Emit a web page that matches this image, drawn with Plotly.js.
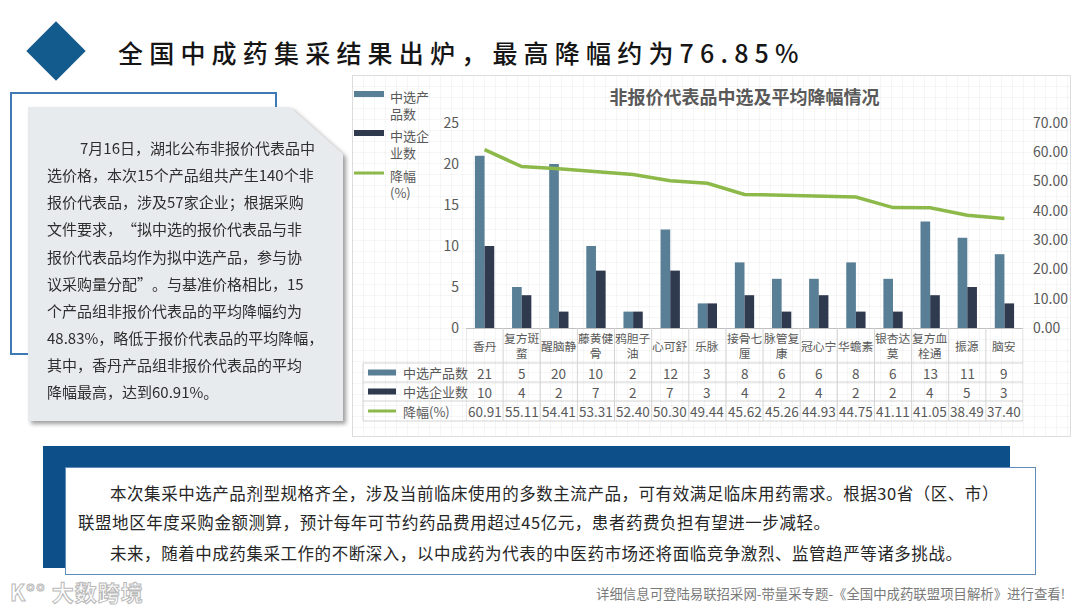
<!DOCTYPE html>
<html lang="zh-CN">
<head>
<meta charset="utf-8">
<script src="https://cdn.plot.ly/plotly-3.0.1.min.js"></script>
<style>
  html, body { margin:0; padding:0; }
  body { width:1080px; height:608px; position:relative; overflow:hidden; background:#ffffff;
         font-family:"Noto Sans CJK SC","Noto Sans",sans-serif; }
  .abs { position:absolute; }
  #diamond { left:35px; top:30px; width:42px; height:42px; background:#135b8d; transform:rotate(45deg); }
  #title { left:118px; top:32px; height:40px; line-height:40px; font-size:25px; letter-spacing:6.2px;
           color:#151515; white-space:nowrap; font-weight:500; }
  #outline { left:10px; top:92px; width:263px; height:259px; border:2px solid #3f79b6; }
  #grayWrap { left:28px; top:107px; width:315px; height:314px; filter:drop-shadow(3px 3px 2px rgba(0,0,0,0.38)); }
  #grayBox { position:absolute; left:0; top:0; width:315px; height:314px; background:#e8ebee;
             clip-path:polygon(0 0, 262px 0, 100% 47px, 100% 100%, 0 100%); }
  .gline { position:absolute; left:19px; font-size:15px; line-height:20px; color:#2e2e2e; white-space:nowrap; }
  .qo { display:inline-block; width:1em; text-align:right; }
  .qc { display:inline-block; width:1em; text-align:left; }
  #panel { left:352px; top:75px; width:719px; height:362px;
           background-color:#ffffff;
           background-image:linear-gradient(rgba(0,0,0,0.035) 1px, transparent 1px),
                            linear-gradient(90deg, rgba(0,0,0,0.035) 1px, transparent 1px);
           background-size:11px 11px; }
  #panelBorder { left:352px; top:75px; width:717px; height:360px; border:1px solid #dcdcdc; pointer-events:none; }
  #chart { position:absolute; left:0; top:0; width:719px; height:362px; }
  #blueRect { left:43px; top:446px; width:967px; height:122px; background:#0c4f89; }
  #whiteBox { left:65px; top:467px; width:969px; height:106px; background:#ffffff; border:1.5px solid #5f8cba; }
  .bline { position:absolute; font-size:16.5px; line-height:24px; letter-spacing:0.55px; color:#262626; white-space:nowrap; }
  #footer { right:15px; top:584px; font-size:13.4px; line-height:18px; color:#7a7a7a; white-space:nowrap; }
  #logo { left:10px; top:576px; font-size:22px; line-height:30px; color:#ffffff; -webkit-text-stroke:1px #b9b9b9;
          white-space:nowrap; letter-spacing:1px; font-weight:bold; }
</style>
</head>
<body>
<div id="diamond" class="abs"></div>
<div id="title" class="abs">全国中成药集采结果出炉，最高降幅约为76.85%</div>

<div id="outline" class="abs"></div>
<div id="grayWrap" class="abs">
  <div id="grayBox">
    <div class="gline" style="top:31px; left:52px;">7月16日，湖北公布非报价代表品中</div>
    <div class="gline" style="top:58px;">选价格，本次15个产品组共产生140个非</div>
    <div class="gline" style="top:85px;">报价代表品，涉及57家企业；根据采购</div>
    <div class="gline" style="top:112px;">文件要求，<span class="qo">“</span>拟中选的报价代表品与非</div>
    <div class="gline" style="top:140px;">报价代表品均作为拟中选产品，参与协</div>
    <div class="gline" style="top:167px;">议采购量分配<span class="qc">”</span>。与基准价格相比，15</div>
    <div class="gline" style="top:194px;">个产品组非报价代表品的平均降幅约为</div>
    <div class="gline" style="top:221px;">48.83%，略低于报价代表品的平均降幅，</div>
    <div class="gline" style="top:248px;">其中，香丹产品组非报价代表品的平均</div>
    <div class="gline" style="top:275px;">降幅最高，达到60.91%。</div>
  </div>
</div>

<div id="panel" class="abs"><div id="chart"></div></div>
<div id="panelBorder" class="abs"></div>

<div id="blueRect" class="abs"></div>
<div id="whiteBox" class="abs"></div>
<div class="bline" style="left:110px; top:481px;">本次集采中选产品剂型规格齐全，涉及当前临床使用的多数主流产品，可有效满足临床用药需求。根据30省（区、市）</div>
<div class="bline" style="left:78px; top:510px;">联盟地区年度采购金额测算，预计每年可节约药品费用超过45亿元，患者药费负担有望进一步减轻。</div>
<div class="bline" style="left:110px; top:541px;">未来，随着中成药集采工作的不断深入，以中成药为代表的中医药市场还将面临竞争激烈、监管趋严等诸多挑战。</div>

<div id="logo" class="abs">K°° 大数跨境</div>
<div id="footer" class="abs">详细信息可登陆易联招采网-带量采专题-《全国中成药联盟项目解析》进行查看!</div>

<script>
// ---------------- data ----------------
const categories = ['香丹','复方斑蝥','醒脑静','藤黄健骨','鸦胆子油','心可舒','乐脉','接骨七厘','脉管复康','冠心宁','华蟾素','银杏达莫','复方血栓通','振源','脑安'];
const categoryLabels = ['香丹','复方斑<br>蝥','醒脑静','藤黄健<br>骨','鸦胆子<br>油','心可舒','乐脉','接骨七<br>厘','脉管复<br>康','冠心宁','华蟾素','银杏达<br>莫','复方血<br>栓通','振源','脑安'];
const products  = [21, 5, 20, 10, 2, 12, 3, 8, 6, 6, 8, 6, 13, 11, 9];
const companies = [10, 4, 2, 7, 2, 7, 3, 4, 2, 4, 2, 2, 4, 5, 3];
const cuts = [60.91, 55.11, 54.41, 53.31, 52.40, 50.30, 49.44, 45.62, 45.26, 44.93, 44.75, 41.11, 41.05, 38.49, 37.40];
const seriesNames = ['中选产品数', '中选企业数', '降幅(%)'];
const legendLabels = ['中选产<br>品数', '中选企<br>业数', '降幅<br>(%)'];
const chartTitle = '非报价代表品中选及平均降幅情况';

// ---------------- styling ----------------
const C_PROD = '#587f96', C_COMP = '#2f3a4e', C_CUT = '#8cb94a';
const TXT = '#595959', FONT = '"Noto Sans CJK SC", "Noto Sans", sans-serif';
const W = 719, H = 362, ML = 114, MR = 48, MT = 48, MB = 109;
const PW = W - ML - MR, PH = H - MT - MB;
const PX = x => (x - ML) / PW;           // pixel (in chart div) -> paper x
const PY = y => (H - MB - y) / PH;        // pixel (in chart div) -> paper y

const traces = [
  { type:'bar', name:seriesNames[0], x:categories, y:products, marker:{color:C_PROD}, yaxis:'y' },
  { type:'bar', name:seriesNames[1], x:categories, y:companies, marker:{color:C_COMP}, yaxis:'y' },
  { type:'scatter', mode:'lines', name:seriesNames[2], x:categories, y:cuts, yaxis:'y2',
    line:{color:C_CUT, width:3.5} }
];

const shapes = [];
const annotations = [];

// top-left legend
const legColors = [C_PROD, C_COMP, C_CUT];
const legY = [19, 58, 98];
legY.forEach((yy, i) => {
  if (i < 2) {
    shapes.push({type:'rect', xref:'paper', yref:'paper', x0:PX(2), x1:PX(32), y0:PY(yy+3), y1:PY(yy-3),
                 fillcolor:legColors[i], line:{width:0}});
  } else {
    shapes.push({type:'line', xref:'paper', yref:'paper', x0:PX(2), x1:PX(32), y0:PY(yy), y1:PY(yy),
                 line:{color:legColors[i], width:3}});
  }
  annotations.push({xref:'paper', yref:'paper', x:PX(36), y:PY(yy-9), xanchor:'left', yanchor:'top',
                    text:legendLabels[i], showarrow:false, align:'left', font:{size:13, color:TXT}});
});

// data table below axis
const rowB = [288, 307, 326, 346];   // row boundaries (px in chart div)
const tableLeft = 11;
for (let k = 0; k < rowB.length; k++) {
  shapes.push({type:'line', xref:'paper', yref:'paper', x0:PX(tableLeft), x1:1, y0:PY(rowB[k]), y1:PY(rowB[k]),
               line:{color:'#d4d4d4', width:1}});
}
shapes.push({type:'line', xref:'paper', yref:'paper', x0:PX(tableLeft), x1:PX(tableLeft), y0:PY(rowB[0]), y1:PY(rowB[3]),
             line:{color:'#d4d4d4', width:1}});
for (let k = 0; k <= categories.length; k++) {
  shapes.push({type:'line', xref:'x', yref:'paper', x0:k-0.5, x1:k-0.5, y0:0, y1:PY(rowB[3]),
               line:{color:'#d4d4d4', width:1}});
}
// row headers
const rowVals = [products.map(String), companies.map(String), cuts.map(v => v.toFixed(2))];
for (let r = 0; r < 3; r++) {
  const yc = (rowB[r] + rowB[r+1]) / 2;
  if (r < 2) {
    shapes.push({type:'rect', xref:'paper', yref:'paper', x0:PX(16), x1:PX(44), y0:PY(yc+3), y1:PY(yc-3),
                 fillcolor:legColors[r], line:{width:0}});
  } else {
    shapes.push({type:'line', xref:'paper', yref:'paper', x0:PX(16), x1:PX(44), y0:PY(yc), y1:PY(yc),
                 line:{color:legColors[r], width:3}});
  }
  annotations.push({xref:'paper', yref:'paper', x:PX(49), y:PY(yc), xanchor:'left', yanchor:'middle',
                    text:seriesNames[r], showarrow:false, font:{size:13, color:TXT}});
  rowVals[r].forEach((t, i) => {
    annotations.push({xref:'x', yref:'paper', x:categories[i], y:PY(yc), xanchor:'center', yanchor:'middle',
                      text:t, showarrow:false, font:{size:13.5, color:TXT}});
  });
}
// category labels (header row of table)
categoryLabels.forEach((t, i) => {
  annotations.push({xref:'x', yref:'paper', x:categories[i], y:PY(270), xanchor:'center', yanchor:'middle',
                    text:t, showarrow:false, font:{size:11.8, color:TXT}});
});

const layout = {
  width:W, height:H,
  margin:{l:ML, r:MR, t:MT, b:MB, pad:0},
  paper_bgcolor:'rgba(0,0,0,0)', plot_bgcolor:'rgba(0,0,0,0)',
  font:{family:FONT, color:TXT},
  title:{text:'<b>'+chartTitle+'</b>', x:0.5, xref:'paper', xanchor:'center', y:1-23/H, yref:'container', yanchor:'middle',
         font:{size:18, color:'#595959', family:FONT}},
  showlegend:false,
  barmode:'group', bargap:0.48, bargroupgap:0,
  xaxis:{type:'category', showticklabels:false, ticks:'', showgrid:false, zeroline:false,
         showline:true, linecolor:'#bfbfbf', linewidth:1, range:[-0.5, categories.length-0.5]},
  yaxis:{range:[0,25], dtick:5, showgrid:false, zeroline:false, showline:false, ticks:'',
         tickfont:{size:14, color:TXT}, ticklabelstandoff:6},
  yaxis2:{range:[0,70], dtick:10, tickformat:'.2f', overlaying:'y', side:'right', showgrid:false, zeroline:false,
          showline:false, ticks:'', tickfont:{size:14, color:TXT}, ticklabelstandoff:9},
  shapes:shapes, annotations:annotations
};

Plotly.newPlot('chart', traces, layout, {staticPlot:true, displayModeBar:false});
</script>
</body>
</html>
